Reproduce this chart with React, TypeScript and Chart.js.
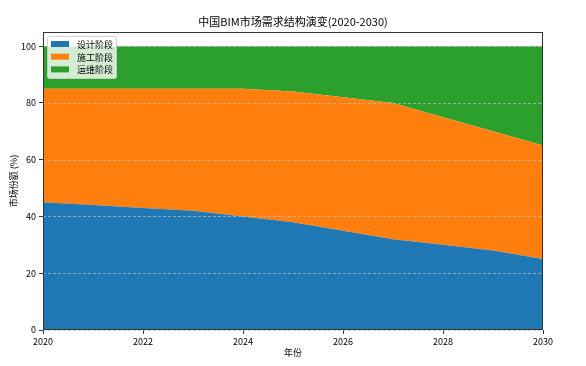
import React, { useEffect, useRef } from "react";
import { Chart, registerables } from "chart.js";

Chart.register(...registerables);

const years = [2020, 2021, 2022, 2023, 2024, 2025, 2026, 2027, 2028, 2029, 2030];
const designShare = [45, 44, 43, 42, 40, 38, 35, 32, 30, 28, 25];
const constructionShare = [40, 41, 42, 43, 45, 46, 47, 48, 45, 42, 40];
const operationShare = [15, 15, 15, 15, 15, 16, 18, 20, 25, 30, 35];
const seriesNames = ["设计阶段", "施工阶段", "运维阶段"];
const seriesColors = ["#1f77b4", "#ff7f0e", "#2ca02c"];
const yTicks = [0, 20, 40, 60, 80, 100];
const titleText = "中国BIM市场需求结构演变(2020-2030)";
const xTitle = "年份";
const yTitle = "市场份额 (%)";

const FONT = '"Noto Sans CJK SC", "DejaVu Sans", sans-serif';

const overlayPlugin = {
  id: "overlay",
  afterDatasetsDraw(chart: any) {
    const { ctx, chartArea } = chart;
    const ys = chart.scales.y;
    ctx.save();
    // grid lines on top of fills
    ctx.strokeStyle = "rgba(190,190,190,0.9)";
    ctx.lineWidth = 0.8;
    ctx.setLineDash([3, 2]);
    yTicks.forEach((t) => {
      const py = Math.round(ys.getPixelForValue(t)) + 0.5;
      ctx.beginPath();
      ctx.moveTo(chartArea.left, py);
      ctx.lineTo(chartArea.right, py);
      ctx.stroke();
    });
    ctx.setLineDash([]);
    // frame
    ctx.strokeStyle = "#333";
    ctx.lineWidth = 1;
    ctx.strokeRect(chartArea.left + 0.5, chartArea.top + 0.5, chartArea.right - chartArea.left - 1, chartArea.bottom - chartArea.top - 1);
    // title
    ctx.fillStyle = "#000";
    ctx.font = `11px ${FONT}`;
    ctx.textAlign = "center";
    ctx.textBaseline = "middle";
    ctx.fillText(titleText, (chartArea.left + chartArea.right) / 2, 22);
    // axis titles
    ctx.font = `9px ${FONT}`;
    ctx.fillText(xTitle, (chartArea.left + chartArea.right) / 2, 353);
    ctx.save();
    ctx.translate(14, (chartArea.top + chartArea.bottom) / 2);
    ctx.rotate(-Math.PI / 2);
    ctx.fillText(yTitle, 0, 0);
    ctx.restore();
    // legend
    const lx = 47, ly = 36, lw = 69, lh = 42;
    ctx.fillStyle = "rgba(255,255,255,0.8)";
    ctx.strokeStyle = "rgba(204,204,204,0.9)";
    ctx.lineWidth = 1;
    ctx.beginPath();
    (ctx as any).roundRect(lx + 0.5, ly + 0.5, lw, lh, 2);
    ctx.fill();
    ctx.stroke();
    ctx.textAlign = "left";
    ctx.font = `9px ${FONT}`;
    seriesNames.forEach((name, i) => {
      const cy = 44 + i * 12.7;
      ctx.fillStyle = seriesColors[i];
      ctx.fillRect(51, cy - 3, 18, 6);
      ctx.fillStyle = "#000";
      ctx.fillText(name, 77, cy + 0.5);
    });
    ctx.restore();
  },
};

export default function App() {
  const ref = useRef<HTMLCanvasElement>(null);
  useEffect(() => {
    if (!ref.current) return;
    const mk = (vals: number[]) => years.map((x, i) => ({ x, y: vals[i] }));
    const chart = new Chart(ref.current, {
      type: "line",
      data: {
        datasets: [designShare, constructionShare, operationShare].map((vals, i) => ({
          label: seriesNames[i],
          data: mk(vals),
          backgroundColor: seriesColors[i],
          borderColor: seriesColors[i],
          borderWidth: 0,
          pointRadius: 0,
          fill: i === 0 ? "origin" : "-1",
          tension: 0,
        })),
      },
      options: {
        responsive: false,
        animation: false,
        devicePixelRatio: 1,
        layout: { padding: { left: 0, right: 43, top: 32, bottom: 0 } },
        plugins: { legend: { display: false }, title: { display: false }, tooltip: { enabled: false } },
        scales: {
          x: {
            type: "linear",
            min: 2020,
            max: 2030,
            ticks: {
              stepSize: 2,
              callback: (v: any) => String(v),
              color: "#000",
              font: { size: 9, family: FONT },
              padding: 2,
              maxRotation: 0,
            },
            grid: { display: true, drawOnChartArea: false, tickLength: 4, color: "#333" },
            border: { display: false },
            afterFit: (s: any) => { s.height = 36; },
          },
          y: {
            type: "linear",
            stacked: true,
            min: 0,
            max: 105,
            afterBuildTicks: (s: any) => { s.ticks = yTicks.map((v) => ({ value: v })); },
            ticks: {
              color: "#000",
              font: { size: 9, family: FONT },
              padding: 3,
            },
            grid: { display: true, drawOnChartArea: false, tickLength: 4, color: "#333" },
            border: { display: false },
            afterFit: (s: any) => { s.width = 43; },
          },
        },
      },
      plugins: [overlayPlugin],
    });
    return () => chart.destroy();
  }, []);
  return (
    <div style={{ position: "fixed", left: 0, top: 0, width: 586, height: 366, background: "#fff" }}>
      <canvas ref={ref} width={586} height={366} style={{ width: 586, height: 366 }} />
    </div>
  );
}
